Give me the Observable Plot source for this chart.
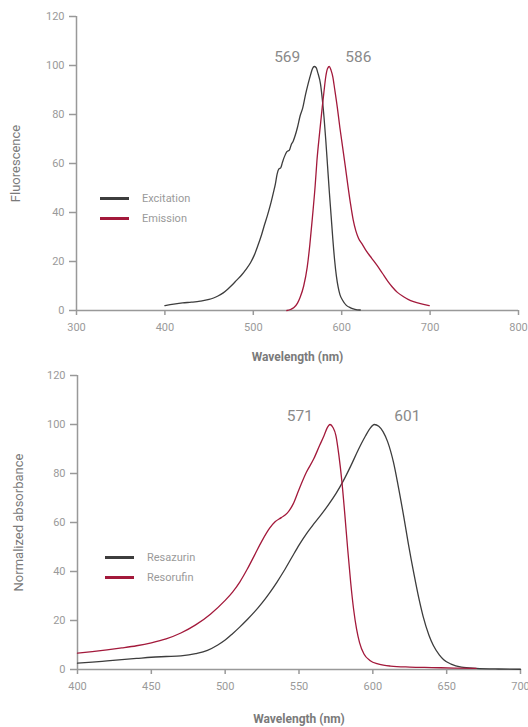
<!DOCTYPE html>
<html>
<head>
<meta charset="utf-8">
<script src="https://cdn.jsdelivr.net/npm/d3@7"></script>
<script src="https://cdn.jsdelivr.net/npm/@observablehq/plot@0.6"></script>
<style>
  body { margin: 0; background: #fff; font-family: Roboto, "DejaVu Sans", sans-serif; }
  .panel { position: relative; width: 528px; }
  .legend { position: absolute; font-size: 11px; color: #9a9a9a; line-height: 20px; }
  .legend .sw { display: inline-block; width: 29px; height: 3px; vertical-align: middle; margin-right: 13px; position: relative; top: -1px; }
</style>
</head>
<body>
<div id="top" class="panel"></div>
<div id="bottom" class="panel"></div>
<script>
// ---------- Data: top chart (fluorescence) ----------
const excitationWl = [400,410,420,430,440,450,455,460,466,471,476,481,487,492,497,501,505,509,512,516,520,523,525,527,529,531,533,535,538,541,543,545,547,550,553,556,559,562,565,567,569,571,573,576,578,580,582,584,586,588,590,592,594,596,598,601,605,610,615,621];
const excitationVal = [2.0,2.6,3.1,3.4,3.8,4.5,5.1,5.9,7.2,8.7,10.4,12.3,14.6,16.9,19.6,22.5,26.3,30.5,34.2,38.8,44.0,48.5,51.7,55.8,57.8,58.2,60.5,62.6,64.8,65.6,67.8,69.0,71.0,74.8,79.5,82.8,88.0,92.5,96.5,98.8,99.6,99.2,97.0,92.5,86.5,78.9,69.5,59.0,48.5,38.8,29.0,20.5,14.0,9.5,6.5,4.2,2.2,1.1,0.5,0.2];
const emissionWl = [538,542,546,550,553,557,561,564,567,570,572,575,578,580,582,584,586,588,590,592,595,598,601,604,607,610,613,616,619,623,628,634,640,646,652,657,663,670,678,688,699];
const emissionVal = [0.0,0.4,1.2,3.0,5.4,10.0,17.7,27.0,38.5,51.0,61.2,72.5,83.0,89.5,95.5,98.8,99.6,98.0,95.3,90.5,83.0,74.5,66.8,59.0,51.0,43.5,37.0,32.5,29.5,27.2,24.2,21.3,18.4,15.2,12.0,9.7,7.4,5.6,4.0,2.9,2.0];
const topPeaks = [{wl: 569, val: 100, label: "569", side: "left"}, {wl: 586, val: 100, label: "586", side: "right"}];
const topXTicks = [300,400,500,600,700,800];
const yTicks = [0,20,40,60,80,100,120];

// ---------- Data: bottom chart (absorbance) ----------
const resazurinWl = [400,410,420,430,440,450,460,470,480,488,495,500,505,510,515,520,525,530,535,540,545,550,555,560,565,570,575,580,585,590,595,598,601,604,607,610,614,617,621,624,628,631,634,638,641,645,648,653,660,670,685,700];
const resazurinVal = [2.6,3.0,3.5,4.0,4.5,5.0,5.3,5.6,6.5,7.8,10.0,12.0,14.6,17.4,20.4,23.6,27.2,31.2,35.6,40.4,45.6,50.8,55.4,59.4,63.2,67.3,71.8,77.0,83.0,89.5,95.3,98.3,100,99.3,97.0,93.0,84.5,75.5,62.2,51.5,38.5,29.5,21.8,14.0,9.8,6.0,4.0,2.2,1.0,0.5,0.2,0.1];
const resorufinWl = [400,410,420,430,440,450,460,470,480,490,500,505,510,515,520,525,530,534,538,542,546,550,555,560,564,567,569,571,573,575,577,579,581,583,585,587,589,591,594,598,604,612,625,640,655,670];
const resorufinVal = [6.7,7.3,8.0,8.8,9.7,10.9,12.5,14.9,18.2,22.6,28.2,31.6,35.8,41.0,46.8,52.6,57.6,60.4,62.0,63.8,67.5,73.5,80.5,86.0,91.5,95.5,98.5,100,98.8,95.5,87.5,77.0,63.5,49.0,35.5,24.5,16.5,11.0,6.3,3.7,2.2,1.4,1.0,0.8,0.6,0.5];
const bottomPeaks = [{wl: 571, val: 100, label: "571", side: "left"}, {wl: 601, val: 100, label: "601", side: "right"}];
const bottomXTicks = [400,450,500,550,600,650,700];

// ---------- Styles ----------
const darkColor = "#3d3d3d";
const redColor = "#a3193b";
const axisColor = "#999999";
const tickTextColor = "#9a9a9a";
const labelColor = "#7a7a7a";
const font = "Roboto, 'DejaVu Sans', sans-serif";

function toRows(wl, val, series) { return wl.map((w, i) => ({wl: w, val: val[i], series})); }

function makeChart({width, height, mt, mb, ml, mr, xDomain, xTicks, yLabel, series, peaks, peakDx, labelOffsetX, labelOffsetY}) {
  const marks = [
    Plot.ruleX([xDomain[0]], {y1: 0, y2: 120, stroke: axisColor, strokeWidth: 1.5}),
    Plot.ruleY([0], {x1: xDomain[0], x2: xDomain[1], stroke: axisColor, strokeWidth: 1.5}),
    Plot.axisY({ticks: yTicks, tickSize: 7, tickPadding: 5, stroke: axisColor, strokeWidth: 1.5, fill: tickTextColor, fontSize: 11,
      label: yLabel, labelAnchor: "center", labelOffset: labelOffsetY, labelArrow: "none"}),
    Plot.axisX({ticks: xTicks, tickSize: 5, tickPadding: 8, stroke: axisColor, strokeWidth: 1.5, fill: tickTextColor, fontSize: 11,
      label: "Wavelength (nm)", labelAnchor: "center", labelOffset: labelOffsetX, labelArrow: "none"})
  ];
  for (const s of series) {
    marks.push(Plot.line(s.rows, {x: "wl", y: "val", stroke: s.color, strokeWidth: 1.3, curve: "monotone-x"}));
  }
  marks.push(Plot.text(peaks.filter(d => d.side === "left"), {x: "wl", y: "val", text: "label", textAnchor: "end", dx: -peakDx[0], dy: -8, fill: "#8a8a8a", fontSize: 15.5}));
  marks.push(Plot.text(peaks.filter(d => d.side === "right"), {x: "wl", y: "val", text: "label", textAnchor: "start", dx: peakDx[1], dy: -8, fill: "#8a8a8a", fontSize: 15.5}));
  return Plot.plot({
    width, height, marginTop: mt, marginBottom: mb, marginLeft: ml, marginRight: mr,
    style: {fontFamily: font, background: "#fff", overflow: "visible"},
    x: {domain: xDomain},
    y: {domain: [0, 120]},
    marks
  });
}

const topChart = makeChart({
  width: 528, height: 364, mt: 16, mb: 54, ml: 76, mr: 10,
  xDomain: [300, 800], xTicks: topXTicks, yLabel: "Fluorescence",
  series: [
    {rows: toRows(excitationWl, excitationVal, "Excitation"), color: darkColor},
    {rows: toRows(emissionWl, emissionVal, "Emission"), color: redColor}
  ],
  peaks: topPeaks, peakDx: [14, 16], labelOffsetX: 50, labelOffsetY: 66
});
const bottomChart = makeChart({
  width: 528, height: 363, mt: 11, mb: 58, ml: 77, mr: 8,
  xDomain: [400, 700], xTicks: bottomXTicks, yLabel: "Normalized absorbance",
  series: [
    {rows: toRows(resazurinWl, resazurinVal, "Resazurin"), color: darkColor},
    {rows: toRows(resorufinWl, resorufinVal, "Resorufin"), color: redColor}
  ],
  peaks: bottomPeaks, peakDx: [17, 20], labelOffsetX: 53, labelOffsetY: 64
});

// Axis label styling
for (const c of [topChart, bottomChart]) {
  c.querySelectorAll("g[aria-label='x-axis label']").forEach(g => {
    g.setAttribute("font-weight", "bold"); g.setAttribute("fill", labelColor); g.setAttribute("font-size", 12);
    g.querySelectorAll("text").forEach(t => t.setAttribute("fill", labelColor));
  });
  c.querySelectorAll("g[aria-label='y-axis label']").forEach(g => {
    g.setAttribute("fill", labelColor); g.setAttribute("font-size", 13);
    g.querySelectorAll("text").forEach(t => t.setAttribute("fill", labelColor));
  });
}

function legend(container, items, left, top) {
  const div = document.createElement("div");
  div.className = "legend";
  div.style.left = left + "px";
  div.style.top = top + "px";
  for (const it of items) {
    const row = document.createElement("div");
    const sw = document.createElement("span");
    sw.className = "sw";
    sw.style.background = it.color;
    row.appendChild(sw);
    row.appendChild(document.createTextNode(it.name));
    div.appendChild(row);
  }
  container.appendChild(div);
}

const topEl = document.getElementById("top");
const bottomEl = document.getElementById("bottom");
topEl.appendChild(topChart);
bottomEl.appendChild(bottomChart);
legend(topEl, [{name: "Excitation", color: darkColor}, {name: "Emission", color: redColor}], 100, 189);
legend(bottomEl, [{name: "Resazurin", color: darkColor}, {name: "Resorufin", color: redColor}], 105, 184);
</script>
</body>
</html>
